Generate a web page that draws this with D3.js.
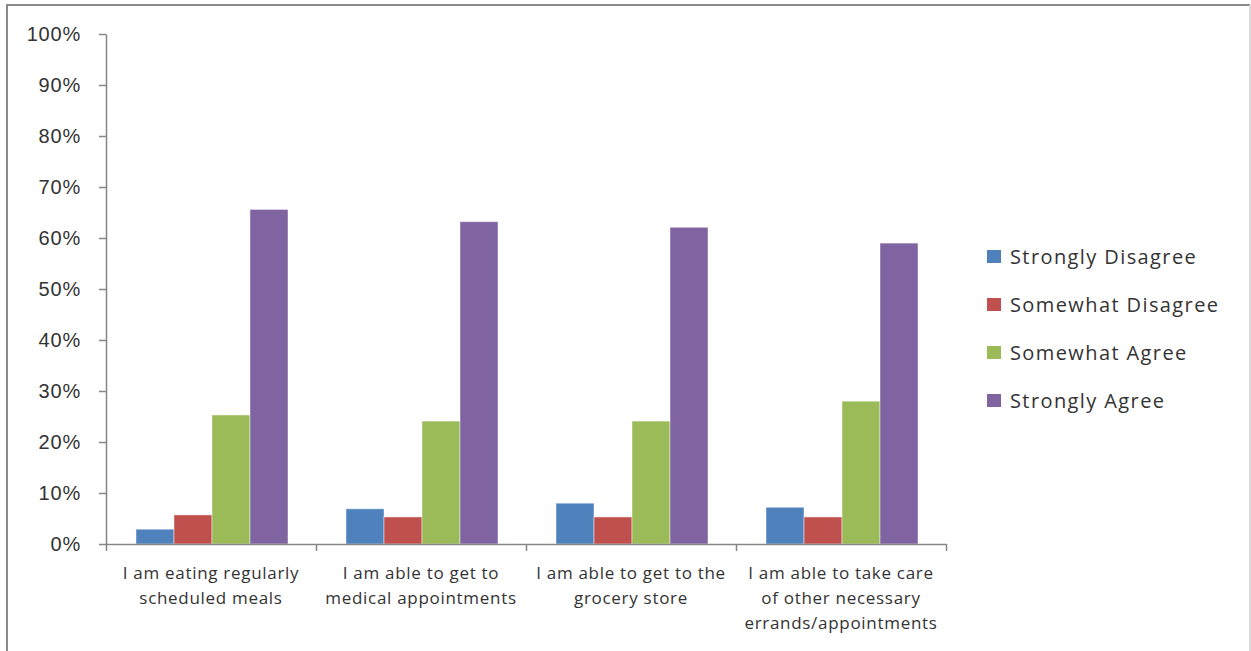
<!DOCTYPE html>
<html>
<head>
<meta charset="utf-8">
<script src="https://cdn.jsdelivr.net/npm/d3@7"></script>
<style>
  html, body { margin: 0; padding: 0; background: #fff; }
  svg { display: block; font-family: "Open Sans", "Noto Sans", sans-serif; }
</style>
</head>
<body>
<svg id="chart" width="1251" height="651"></svg>
<script>
// Survey statements (x categories), wrapped into display lines
const categories = [
  "I am eating regularly scheduled meals",
  "I am able to get to medical appointments",
  "I am able to get to the grocery store",
  "I am able to take care of other necessary errands/appointments"
];
const categoryLines = [
  ["I am eating regularly", "scheduled meals"],
  ["I am able to get to", "medical appointments"],
  ["I am able to get to the", "grocery store"],
  ["I am able to take care", "of other necessary", "errands/appointments"]
];

// Response series and their share per statement
const seriesNames = ["Strongly Disagree", "Somewhat Disagree", "Somewhat Agree", "Strongly Agree"];
const stronglyDisagree = [0.029, 0.069, 0.080, 0.072];
const somewhatDisagree = [0.057, 0.053, 0.053, 0.053];
const somewhatAgree    = [0.253, 0.241, 0.241, 0.280];
const stronglyAgree    = [0.656, 0.632, 0.621, 0.590];
const seriesValues = [stronglyDisagree, somewhatDisagree, somewhatAgree, stronglyAgree];
const seriesColors = ["#4F81BD", "#C0504D", "#9BBB59", "#8064A2"];

// Y axis tick values
const yTicks = [0, 0.1, 0.2, 0.3, 0.4, 0.5, 0.6, 0.7, 0.8, 0.9, 1.0];

const svg = d3.select("#chart");
const axisColor = "#868686";
const textColor = "#333333";

// outer frame
svg.append("path")
  .attr("d", "M7,651 V5 H1250")
  .attr("fill", "none").attr("stroke", "#8a8a8a").attr("stroke-width", 2);
svg.append("line")
  .attr("x1", 1250).attr("x2", 1250).attr("y1", 5).attr("y2", 651)
  .attr("stroke", "#d9d9d9").attr("stroke-width", 2);

const plot = { left: 106, right: 946, top: 34, bottom: 544 };

const x0 = d3.scaleBand().domain(categories).range([plot.left, plot.right]).padding(0);
const x1 = d3.scaleBand().domain(seriesNames).range([30, x0.bandwidth() - 28]).padding(0);
const y = d3.scaleLinear().domain([0, 1]).range([plot.bottom, plot.top]);

// bars
const groups = svg.append("g").selectAll("g")
  .data(categories)
  .join("g")
  .attr("transform", d => `translate(${x0(d)},0)`);

groups.selectAll("rect")
  .data((d, i) => seriesNames.map((s, k) => ({ s, v: seriesValues[k][i], c: seriesColors[k] })))
  .join("rect")
  .attr("x", d => x1(d.s))
  .attr("y", d => y(d.v))
  .attr("width", x1.bandwidth())
  .attr("height", d => y(0) - y(d.v))
  .attr("fill", d => d.c)
  .attr("stroke", "rgba(255,255,255,0.45)")
  .attr("stroke-width", 1);

// y axis
const yAxis = svg.append("g")
  .attr("transform", `translate(${plot.left},0)`)
  .call(d3.axisLeft(y).tickValues(yTicks).tickFormat(d3.format(".0%")).tickSize(7).tickSizeOuter(0).tickPadding(18));
yAxis.select(".domain").attr("stroke", axisColor).attr("stroke-width", 1.5);
yAxis.selectAll(".tick line").attr("stroke", axisColor).attr("stroke-width", 1.5);
yAxis.selectAll(".tick text")
  .attr("fill", textColor)
  .style("font-size", "20px")
  .style("letter-spacing", "0.8px")
  .attr("font-family", null);

// x axis: line with tick marks at category boundaries
const boundary = d3.scaleLinear().domain([0, categories.length]).range([plot.left, plot.right]);
const xAxis = svg.append("g")
  .attr("transform", `translate(0,${plot.bottom})`)
  .call(d3.axisBottom(boundary).ticks(categories.length).tickFormat("").tickSize(7).tickSizeOuter(0));
xAxis.select(".domain").attr("stroke", axisColor).attr("stroke-width", 1.5);
xAxis.selectAll(".tick line").attr("stroke", axisColor).attr("stroke-width", 1.5);

// category labels
const catLabels = svg.append("g").selectAll("text")
  .data(categories)
  .join("text")
  .attr("x", d => x0(d) + x0.bandwidth() / 2)
  .attr("y", 579)
  .attr("text-anchor", "middle")
  .attr("fill", textColor)
  .style("font-size", "17px")
  .style("letter-spacing", "0.7px");
catLabels.selectAll("tspan")
  .data((d, i) => categoryLines[i])
  .join("tspan")
  .attr("x", function () { return d3.select(this.parentNode).attr("x"); })
  .attr("dy", (d, j) => j === 0 ? 0 : 25)
  .text(d => d);

// legend
const legend = svg.append("g").attr("transform", "translate(987,257)");
const items = legend.selectAll("g")
  .data(seriesNames)
  .join("g")
  .attr("transform", (d, i) => `translate(0,${i * 48})`);
items.append("rect")
  .attr("x", 0).attr("y", -7)
  .attr("width", 14).attr("height", 13)
  .attr("fill", (d, i) => seriesColors[i]);
items.append("text")
  .attr("x", 23).attr("y", 0)
  .attr("dy", "0.35em")
  .attr("fill", textColor)
  .style("font-size", "20px")
  .style("letter-spacing", "1.4px")
  .text(d => d);
</script>
</body>
</html>
